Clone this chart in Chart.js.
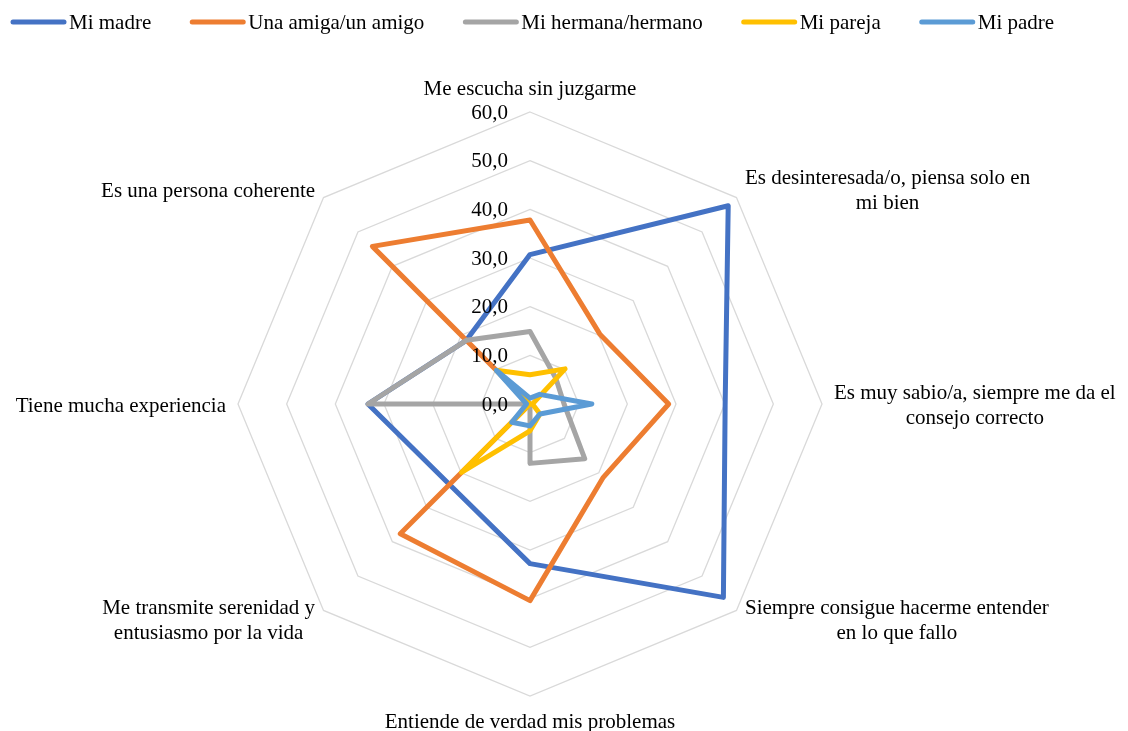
<!DOCTYPE html>
<html>
<head>
<meta charset="utf-8">
<script src="https://cdn.jsdelivr.net/npm/chart.js@4.4.1/dist/chart.umd.min.js"></script>
<style>
  html, body { margin: 0; padding: 0; background: #ffffff; }
  #wrap { width: 1128px; height: 731px; position: relative; }
</style>
</head>
<body>
<div id="wrap"><canvas id="c" width="1128" height="731"></canvas></div>
<script>
const categories = [
  'Me escucha sin juzgarme',
  ['Es desinteresada/o, piensa solo en', 'mi bien'],
  ['Es muy sabio/a, siempre me da el', 'consejo correcto'],
  ['Siempre consigue hacerme entender', 'en lo que fallo'],
  'Entiende de verdad mis problemas',
  ['Me transmite serenidad y', 'entusiasmo por la vida'],
  'Tiene mucha experiencia',
  'Es una persona coherente'
];
const seriesNames = ['Mi madre', 'Una amiga/un amigo', 'Mi hermana/hermano', 'Mi pareja', 'Mi padre'];
const miMadre   = [30.7, 57.6, 40.1, 56.2, 32.8, 23.4, 33.3, 18.5];
const unaAmiga  = [37.8, 20.3, 28.5, 21.3, 40.4, 37.7, 0.0, 45.8];
const miHermana = [14.9, 7.5, 7.0, 15.9, 12.2, 0.0, 33.3, 18.5];
const miPareja  = [6.0, 10.2, 0.5, 2.9, 5.5, 19.9, 0.0, 9.8];
const miPadre   = [1.2, 2.8, 12.7, 2.9, 4.5, 5.3, 0.7, 9.8];
const tickLabels = ['0,0', '10,0', '20,0', '30,0', '40,0', '50,0', '60,0'];
const colors = ['#4472C4', '#ED7D31', '#A5A5A5', '#FFC000', '#5B9BD5'];

const FONT = '"Liberation Serif", "Times New Roman", serif';

const textPlugin = {
  id: 'textPlugin',
  afterDatasetsDraw(chart) {
    const s = chart.scales.r;
    const ctx = chart.ctx;
    ctx.save();
    ctx.fillStyle = '#000000';
    // tick labels
    ctx.font = '21px ' + FONT;
    ctx.textAlign = 'right';
    ctx.textBaseline = 'middle';
    s.ticks.forEach(t => {
      const d = s.getDistanceFromCenterForValue(t.value);
      ctx.fillText(t.label, s.xCenter - 22, s.yCenter - d + 1);
    });
    // point labels
    const n = chart.data.labels.length;
    const lh = 25;
    ctx.textAlign = 'center';
    for (let i = 0; i < n; i++) {
      const lines = [].concat(chart.data.labels[i]);
      const p = s.getPointPosition(i, s.drawingArea + 12);
      const ang = i * 360 / n;
      const w = Math.max(...lines.map(l => ctx.measureText(l).width));
      const H = lines.length * lh;
      let cx, top;
      if (ang === 0) { cx = p.x; top = p.y - H; }
      else if (ang === 180) { cx = p.x; top = p.y; }
      else if (ang < 180) { cx = p.x + w / 2; top = p.y - H / 2; }
      else { cx = p.x - w / 2; top = p.y - H / 2; }
      lines.forEach((l, k) => ctx.fillText(l, cx, top + lh * k + lh / 2 + 2));
    }
    ctx.restore();
  },
  afterDraw(chart) {
    const ctx = chart.ctx;
    ctx.save();
    ctx.font = '21px ' + FONT;
    ctx.textBaseline = 'middle';
    ctx.textAlign = 'left';
    let x = 10;
    const y = 22;
    chart.data.datasets.forEach(ds => {
      ctx.strokeStyle = ds.borderColor;
      ctx.lineWidth = 5;
      ctx.lineCap = 'round';
      ctx.beginPath();
      ctx.moveTo(x + 3, y);
      ctx.lineTo(x + 54, y);
      ctx.stroke();
      ctx.fillStyle = '#000000';
      ctx.fillText(ds.label, x + 59, y + 1);
      x += 59 + ctx.measureText(ds.label).width + 38;
    });
    ctx.restore();
  }
};

const seriesData = [miMadre, unaAmiga, miHermana, miPareja, miPadre];

new Chart(document.getElementById('c'), {
  type: 'radar',
  data: {
    labels: categories,
    datasets: seriesData.map((d, i) => ({
      label: seriesNames[i],
      data: d,
      borderColor: colors[i],
      backgroundColor: colors[i],
      borderWidth: 5,
      borderJoinStyle: 'round',
      borderCapStyle: 'round',
      fill: false,
      pointRadius: 0,
      pointHoverRadius: 0,
      order: seriesData.length - i
    }))
  },
  options: {
    responsive: false,
    animation: false,
    devicePixelRatio: 1,
    layout: { padding: { top: 112, bottom: 34, left: 0, right: 68 } },
    plugins: {
      legend: { display: false },
      tooltip: { enabled: false }
    },
    elements: { line: { tension: 0 } },
    scales: {
      r: {
        min: 0,
        max: 60,
        ticks: {
          stepSize: 10,
          display: false,
          callback: (v, idx) => tickLabels[idx]
        },
        grid: { color: '#D9D9D9', lineWidth: 1.3, circular: false },
        angleLines: { display: false },
        pointLabels: { display: false }
      }
    }
  },
  plugins: [textPlugin]
});
</script>
</body>
</html>
